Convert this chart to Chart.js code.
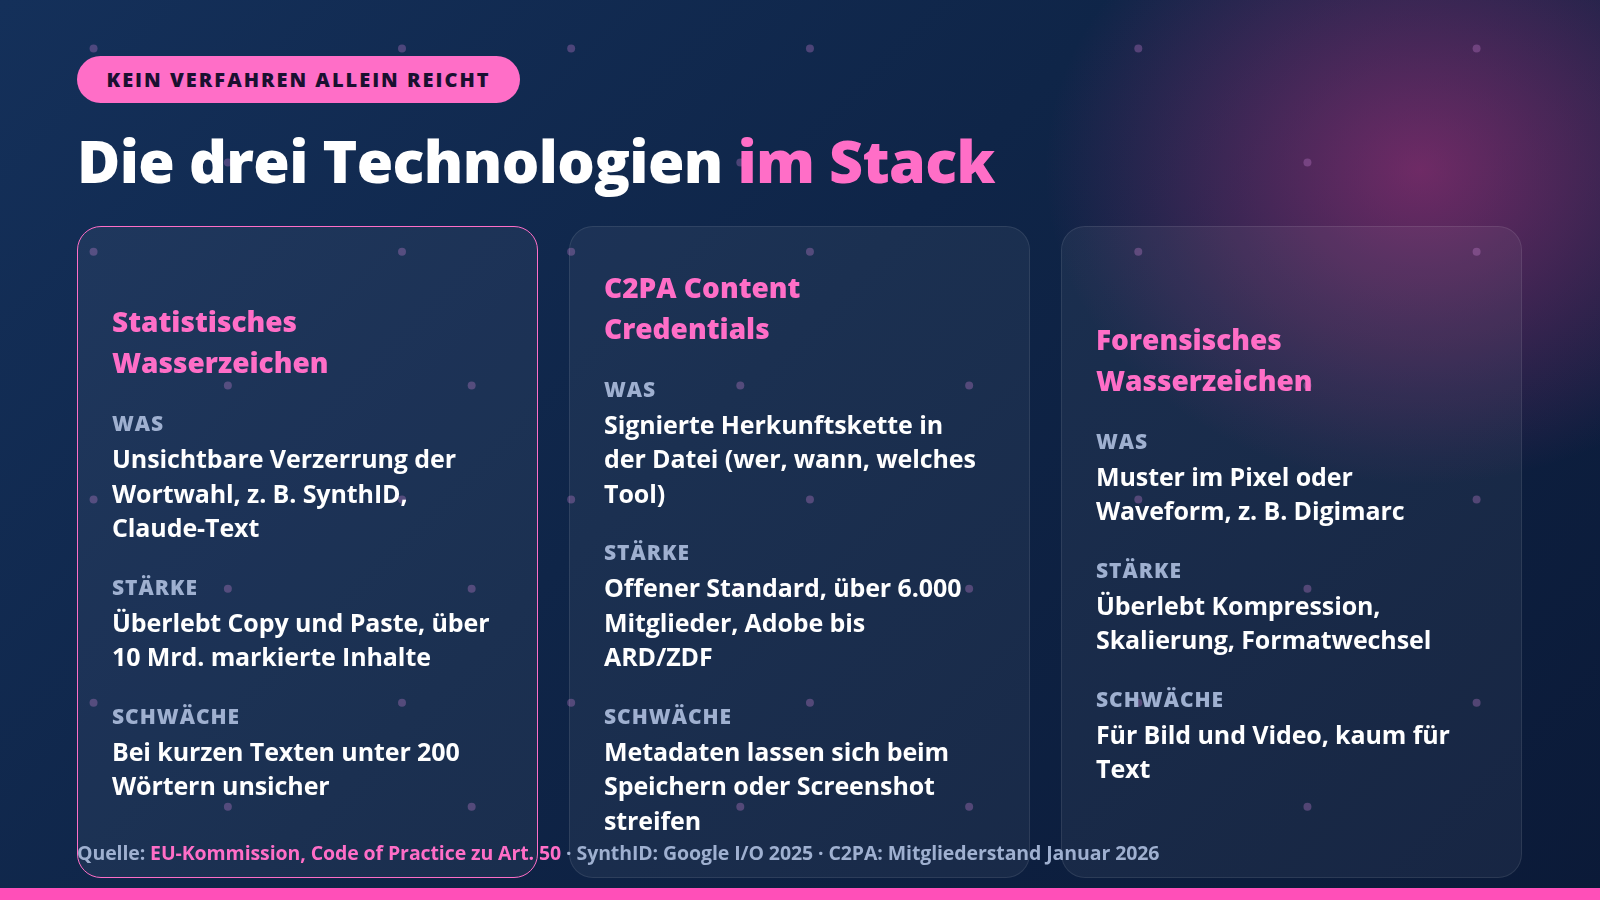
<!DOCTYPE html>
<html><head><meta charset="utf-8">
<script src="https://cdn.jsdelivr.net/npm/chart.js@4"></script>
<style>
html,body{margin:0;width:1600px;height:900px;overflow:hidden;font-family:"Open Sans",Lato,sans-serif}
body{background:radial-gradient(ellipse 500px 420px at 1420px 170px,rgba(190,50,130,.55),transparent 75%),linear-gradient(135deg,#14305a 0%,#0f2548 45%,#0b1a38 100%);position:relative}
#bg{position:absolute;left:0;top:0;width:1600px;height:900px}
.pill{position:absolute;left:77px;top:56px;width:443px;height:47px;border-radius:24px;background:#ff6ec7;color:#1a1030;font-weight:800;font-size:20px;letter-spacing:2px;display:flex;align-items:center;justify-content:center}
h1{position:absolute;left:77px;top:120px;margin:0;font-size:59px;font-weight:800;color:#fff;letter-spacing:-0.6px}
h1 span{color:#ff6ec7}
.card{position:absolute;top:226px;width:461px;height:652px;border-radius:24px;background:rgba(255,255,255,.05);border:1px solid rgba(255,255,255,.09);box-sizing:border-box;padding:0 36px 0 34px;display:flex;flex-direction:column;justify-content:center}
.card.hl{border:1.5px solid #ff6ec7}
.card h2{color:#ff6ec7;font-size:28px;font-weight:800;margin:0 0 26px;line-height:41px}
.lab{color:#9fb0d0;font-size:21px;font-weight:800;letter-spacing:1px;margin-bottom:4px}
.txt{color:#fff;font-size:25px;font-weight:700;line-height:34.5px;margin-bottom:28px;letter-spacing:-0.1px}
.src{position:absolute;left:77px;top:839px;font-size:19.5px;color:#9fb0d0;font-weight:700;letter-spacing:-0.1px}
.src span{color:#ff6ec7}
.bar{position:absolute;left:0;bottom:0;width:1600px;height:12px;background:#ff4fb8}
</style></head><body>
<canvas id="bg" width="1600" height="900"></canvas>
<div class="pill">KEIN VERFAHREN ALLEIN REICHT</div>
<h1>Die drei Technologien <span>im Stack</span></h1>
<div id="cards"></div>
<div class="src">Quelle: <span>EU-Kommission, Code of Practice zu Art. 50</span> · SynthID: Google I/O 2025 · C2PA: Mitgliederstand Januar 2026</div>
<div class="bar"></div>
<script>
const titles=["Statistisches<br>Wasserzeichen","C2PA Content<br>Credentials","Forensisches<br>Wasserzeichen"];
const labels=["WAS","STÄRKE","SCHWÄCHE"];
// "|" marks the line breaks of the reference
const texts=[
["Unsichtbare Verzerrung der|Wortwahl, z. B. SynthID,|Claude-Text","Überlebt Copy und Paste, über|10 Mrd. markierte Inhalte","Bei kurzen Texten unter 200|Wörtern unsicher"],
["Signierte Herkunftskette in|der Datei (wer, wann, welches|Tool)","Offener Standard, über 6.000|Mitglieder, Adobe bis|ARD/ZDF","Metadaten lassen sich beim|Speichern oder Screenshot|streifen"],
["Muster im Pixel oder|Waveform, z. B. Digimarc","Überlebt Kompression,|Skalierung, Formatwechsel","Für Bild und Video, kaum für|Text"]];
const lefts=[77,569,1061];
let h="";
titles.forEach((t,i)=>{h+=`<div class="card${i==0?' hl':''}" style="left:${lefts[i]}px"><h2>${t}</h2>`;
labels.forEach((l,j)=>{h+=`<div class="lab">${l}</div><div class="txt" style="white-space:nowrap${j==2?';margin-bottom:0':''}">${texts[i][j].split("|").join("<br>")}</div>`});h+="</div>";});
document.getElementById("cards").innerHTML=h;
const nodeX=[90,225,400,470,570,740,810,970,1140,1310,1480];
const nodeY=[45,160,250,385,500,590,705,810];
const pts=[];nodeX.forEach((x,i)=>nodeY.forEach((y,j)=>{if((i+j)%2==0)pts.push({x,y})}));
new Chart(document.getElementById("bg"),{type:"scatter",data:{datasets:[{data:pts,pointRadius:4,pointBackgroundColor:"rgba(190,120,200,.35)",pointBorderWidth:0}]},
options:{responsive:false,animation:false,events:[],plugins:{legend:{display:false},tooltip:{enabled:false}},layout:{padding:0},
scales:{x:{display:false,min:0,max:1600},y:{display:false,min:0,max:900,reverse:true}}}});
</script>
</body></html>
